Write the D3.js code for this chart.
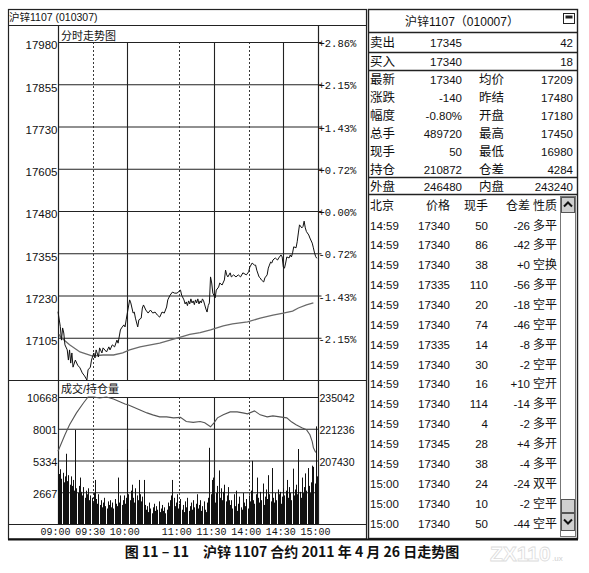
<!DOCTYPE html>
<html><head><meta charset="utf-8">
<script src="https://cdn.jsdelivr.net/npm/d3@7"></script>
<style>
body{margin:0;background:#fff}
text{font-family:"Liberation Sans","Noto Sans CJK SC",sans-serif;fill:#111}
</style>
</head><body><svg id="c" width="589" height="573"></svg>
<script>
// ---------------- data ----------------
const timeTicks  = [0, 30, 60, 105, 135, 165, 195, 225];
const timeLabels = ["09:00","09:30","10:00","11:00","11:30","14:00","14:30","15:00"];
const gridKinds  = ["axis","dash","solid","dash","solid","dash","solid","axis"];
const priceTicks = [17980,17855,17730,17605,17480,17355,17230,17105];
const pctLabels  = ["+2.86%","+2.15%","+1.43%","+0.72%","+0.00%","-0.72%","-1.43%","-2.15%"];
const volTicks   = [10668, 8001, 5334, 2667];
const oiTicks    = [235042, 221236, 207430];

// [minute, price]
const priceData = [[0,17182],[2,17138],[3,17098],[4,17134],[5,17119],[6,17084],[8,17069],[9,17039],[10,17069],[11,17030],[12,17060],[13,17018],[15,17039],[17,17024],[19,17016],[21,17001],[23,16992],[25,16980],[26,17010],[28,17018],[29,17039],[31,17060],[32,17045],[33,17069],[35,17048],[36,17075],[38,17060],[39,17075],[42,17063],[44,17078],[45,17069],[47,17084],[49,17078],[51,17098],[52,17089],[54,17128],[55,17134],[57,17143],[58,17137],[59,17158],[60,17178],[62,17217],[63,17208],[65,17178],[66,17181],[67,17163],[69,17137],[70,17158],[72,17163],[73,17193],[74,17202],[76,17187],[78,17178],[80,17187],[82,17178],[84,17181],[86,17172],[88,17166],[90,17181],[92,17178],[94,17196],[95,17217],[97,17231],[99,17240],[101,17237],[103,17237],[106,17246],[107,17231],[109,17217],[110,17205],[111,17211],[112,17200],[113,17214],[114,17205],[115,17220],[116,17208],[117,17214],[118,17203],[119,17217],[120,17208],[121,17220],[122,17205],[123,17214],[124,17208],[125,17220],[126,17214],[127,17202],[128,17190],[129,17181],[130,17200],[131,17208],[132,17285],[133,17267],[134,17237],[136,17223],[137,17246],[139,17255],[140,17267],[142,17261],[144,17276],[145,17305],[146,17291],[147,17285],[149,17297],[150,17285],[152,17291],[154,17285],[156,17291],[158,17285],[160,17297],[163,17291],[165,17300],[166,17314],[168,17326],[170,17320],[171,17320],[172,17305],[174,17285],[175,17282],[176,17276],[178,17270],[179,17282],[181,17291],[182,17311],[183,17320],[184,17329],[185,17326],[186,17335],[188,17341],[190,17335],[191,17341],[193,17350],[194,17344],[195,17314],[196,17311],[197,17326],[198,17344],[200,17341],[201,17350],[202,17344],[203,17356],[204,17374],[206,17371],[207,17389],[208,17415],[209,17439],[211,17430],[212,17434],[213,17450],[214,17430],[215,17419],[217,17409],[218,17400],[220,17385],[221,17371],[222,17356],[223,17345],[224,17340]];

// [minute, average price]
const avgData = [[1,17115],[2,17108],[10,17084],[19,17063],[30,17051],[39,17054],[48,17054],[56,17060],[62,17069],[71,17078],[80,17084],[88,17089],[97,17098],[106,17107],[114,17115],[123,17120],[132,17128],[143,17140],[151,17146],[164,17152],[175,17163],[186,17172],[195,17178],[203,17184],[208,17193],[215,17202],[221,17208]];

// volume per minute, minute 0..224
const volumes = [
4900,4200,4600,3800,4300,3500,4000,5900,3600,4100,3300,4000,3200,3700,2800,
7900,3000,2600,3200,3900,2700,2400,3100,2200,2800,2500,3000,2000,2400,2200,
1800,2600,3700,2100,1700,2500,1600,2000,1400,1800,2200,1500,1300,1900,1600,
2000,1400,1800,1300,2100,1700,1500,3900,1800,2400,1600,2000,2400,1700,2200,
6300,2500,2000,2800,3300,2200,1800,3000,2400,2000,3700,2500,1900,2300,3700,
1600,1200,1500,1000,1800,1300,900,1400,1700,1100,1500,1200,1900,1000,1300,
1600,1100,1400,900,1200,1800,1500,2000,2400,3700,2200,1500,1800,2500,1300,
1700,2100,1200,1600,1000,1900,1400,2200,1100,1500,1800,1200,2000,1400,1700,
2500,1300,1600,2000,1100,1500,1900,1200,1000,1800,2200,6400,2500,3700,3900,
2400,1800,2600,3200,4500,2200,3000,2000,2700,3300,1900,2400,3100,2000,1600,
2000,1300,2500,1500,2800,1100,1700,2300,1400,1200,2600,1800,1500,2100,1300,
2400,1900,2800,5300,2000,1700,2500,3900,2200,1800,2700,2000,3400,1600,2300,
2900,2100,4100,2500,1900,4700,2200,1800,2600,2000,2900,2500,2700,1700,2300,
3000,2400,2800,3700,2200,3100,2600,2000,4650,2400,2900,3300,2500,6300,2700,
2200,3900,2600,3100,4250,2800,4700,3200,2600,3500,4900,4800,3400,8200,4000];

// [minute, open interest]
const oiData = [[0,211440],[6,218645],[10,222958],[16,228135],[22,232449],[26,235040],[31,235040],[36,234609],[42,235040],[48,234178],[54,232884],[58,232021],[61,231590],[65,230727],[71,229433],[77,228135],[82,227272],[88,226409],[94,226409],[100,225977],[106,226200],[111,224400],[117,224000],[123,224381],[127,223821],[132,222095],[135,223821],[138,225977],[143,227272],[149,228566],[155,228566],[160,228135],[164,227704],[170,228997],[175,227272],[181,226409],[186,226840],[192,226409],[198,225977],[202,224252],[206,222958],[211,221664],[215,220800],[218,218645],[220,215624],[221,213036],[223,210872]];

const leftTitle  = "沪锌1107 (010307)";
const priceTitle = "分时走势图";
const volTitle   = "成交/持仓量";
const panelTitle = "沪锌1107（010007）";
const bidAsk = [["卖出","17345","42"],["买入","17340","18"]];
const quoteRows = [["最新","17340","均价","17209"],["涨跌","-140","昨结","17480"],["幅度","-0.80%","开盘","17180"],["总手","489720","最高","17450"],["现手","50","最低","16980"],["持仓","210872","仓差","4284"]];
const outerRow = ["外盘","246480","内盘","243240"];
const tickHeader = ["北京","价格","现手","仓差","性质"];
const tickRows = [
["14:59","17340","50","-26","多平"],["14:59","17340","86","-42","多平"],["14:59","17340","38","+0","空换"],
["14:59","17335","110","-56","多平"],["14:59","17340","20","-18","空平"],["14:59","17340","74","-46","空平"],
["14:59","17335","14","-8","多平"],["14:59","17340","30","-2","空平"],["14:59","17340","16","+10","空开"],
["14:59","17340","114","-14","多平"],["14:59","17340","4","-2","多平"],["14:59","17345","28","+4","多开"],
["14:59","17340","38","-4","多平"],["15:00","17340","24","-24","双平"],["15:00","17340","10","-2","空平"],
["15:00","17340","50","-44","空平"]];
const caption = "图 11 – 11　沪锌 1107 合约 2011 年 4 月 26 日走势图";

// ---------------- drawing ----------------
const svg = d3.select("#c");
svg.append("rect").attr("width",589).attr("height",573).attr("fill","#fff");

const x   = d3.scaleLinear().domain([0,225]).range([58,318]);
const yP  = d3.scaleLinear().domain([16980,17980]).range([380,42]);
const yV  = d3.scaleLinear().domain([0,10668]).range([524,397]);
const yOI = d3.scaleLinear().domain([235042-4*13806,235042]).range([524,397]);

const ln = (x1,y1,x2,y2,w=1,c="#222",dash=null)=>{
  const l = svg.append("line").attr("x1",x1).attr("y1",y1).attr("x2",x2).attr("y2",y2)
    .attr("stroke",c).attr("stroke-width",w);
  if(dash) l.attr("stroke-dasharray",dash);
  return l;
};

// left frame
svg.append("rect").attr("x",8.5).attr("y",9.5).attr("width",358).attr("height",529.5)
  .attr("fill","none").attr("stroke","#222").attr("stroke-width",1.2);
ln(8,25.5,367,25.5,1.2);
ln(8,380.5,367,380.5,1.2);
ln(8,524.5,367,524.5,1.2);
ln(58.5,25,58.5,524,1.2);
ln(318.5,25,318.5,524,1.2);

svg.append("text").attr("x",9).attr("y",21).attr("font-size",10.5).text(leftTitle);
svg.append("text").attr("x",61).attr("y",39.5).attr("font-size",11).text(priceTitle);
svg.append("text").attr("x",61).attr("y",393).attr("font-size",11).text(volTitle);

// vertical grid
timeTicks.forEach((t,i)=>{
  if(gridKinds[i]==="axis") return;
  const xx = Math.round(x(t))+0.5;
  const dash = gridKinds[i]==="dash" ? "2,2" : null;
  const w = gridKinds[i]==="dash" ? 0.9 : 1.1;
  ln(xx,42,xx,380,w,"#222",dash);
  ln(xx,397,xx,524,w,"#222",dash);
});

// price axis (left) with gridlines
const gP = svg.append("g").attr("transform","translate(58.5,0)")
  .call(d3.axisLeft(yP).tickValues(priceTicks).tickSize(-260).tickPadding(1).tickFormat(d3.format("d")));
gP.select(".domain").remove();
gP.selectAll(".tick line").attr("stroke","#222").attr("stroke-width",1.2);
gP.selectAll(".tick text").attr("font-size",11.5).attr("dy","0.6em")
  .style("font-family","'Liberation Sans',sans-serif");

// percent axis (right)
const gR = svg.append("g").attr("transform","translate(318.5,0)")
  .call(d3.axisRight(yP).tickValues(priceTicks).tickSize(3).tickPadding(-3).tickFormat((d,i)=>pctLabels[i]));
gR.select(".domain").remove();
gR.selectAll(".tick line").attr("stroke","#222");
gR.selectAll(".tick text").attr("font-size",10.5).attr("dy","0.45em")
  .style("font-family","'Liberation Mono',monospace");

// volume axis left
const gV = svg.append("g").attr("transform","translate(58.5,0)")
  .call(d3.axisLeft(yV).tickValues(volTicks).tickSize(-260).tickPadding(1).tickFormat(d3.format("d")));
gV.select(".domain").remove();
gV.selectAll(".tick line").attr("stroke","#222").attr("stroke-width",1.1);
gV.selectAll(".tick text").attr("font-size",11).attr("dy","0.45em")
  .style("font-family","'Liberation Sans',sans-serif");

// OI axis right
const gO = svg.append("g").attr("transform","translate(318.5,0)")
  .call(d3.axisRight(yOI).tickValues(oiTicks).tickSize(0).tickPadding(1).tickFormat(d3.format("d")));
gO.select(".domain").remove();
gO.selectAll(".tick text").attr("font-size",10.5).attr("dy","0.45em")
  .style("font-family","'Liberation Sans',sans-serif");

// time labels
const gT = svg.append("g").attr("transform","translate(-3,524.5)")
  .call(d3.axisBottom(x).tickValues(timeTicks).tickSize(0).tickPadding(3).tickFormat((d,i)=>timeLabels[i]));
gT.select(".domain").remove();
gT.selectAll(".tick text").attr("font-size",10)
  .style("font-family","'Liberation Mono',monospace");

// volume bars
svg.append("g").selectAll("line").data(volumes).join("line")
  .attr("x1",(d,i)=>Math.round(x(i))+0.5).attr("x2",(d,i)=>Math.round(x(i))+0.5)
  .attr("y1",yV(0)).attr("y2",d=>yV(d)).attr("stroke","#111").attr("stroke-width",1);

// OI line
svg.append("path").datum(oiData)
  .attr("d",d3.line().x(d=>x(d[0])).y(d=>yOI(d[1])))
  .attr("fill","none").attr("stroke","#555").attr("stroke-width",1.1);

// avg line
svg.append("path").datum(avgData)
  .attr("d",d3.line().x(d=>x(d[0])).y(d=>yP(d[1])))
  .attr("fill","none").attr("stroke","#6a6a6a").attr("stroke-width",1.3);

// price line
svg.append("path").datum(priceData)
  .attr("d",d3.line().x(d=>x(d[0])).y(d=>yP(d[1])))
  .attr("fill","none").attr("stroke","#111").attr("stroke-width",1);

// ---------------- right panel ----------------
svg.append("rect").attr("x",368.5).attr("y",9.5).attr("width",209).attr("height",529)
  .attr("fill","none").attr("stroke","#222").attr("stroke-width",1.4);
[32,52,70,177,194].forEach(yy=>ln(368,yy+0.5,578,yy+0.5,1.4));

svg.append("text").attr("x",462).attr("y",26).attr("text-anchor","middle").attr("font-size",12).text(panelTitle);
svg.append("rect").attr("x",563.5).attr("y",13.5).attr("width",11).attr("height",10).attr("fill","#fff").attr("stroke","#222");
svg.append("rect").attr("x",565.5).attr("y",15.5).attr("width",7).attr("height",3).attr("fill","#222");

const tx = (xx,yy,s,anchor="start",fs=11.5)=>svg.append("text").attr("x",xx).attr("y",yy)
  .attr("text-anchor",anchor).attr("font-size",fs).text(s);

bidAsk.forEach((r,i)=>{
  const cy = [42,61][i] + 4.5;
  tx(370,cy,r[0],"start",12.5); tx(462,cy,r[1],"end"); tx(573,cy,r[2],"end");
});
quoteRows.forEach((r,i)=>{
  const cy = 79 + i*18 + 4.5;
  tx(370,cy,r[0],"start",12.5); tx(462,cy,r[1],"end");
  tx(479,cy,r[2],"start",12.5); tx(573,cy,r[3],"end");
});
{
  const cy = 186 + 4.5;
  tx(370,cy,outerRow[0],"start",12.5); tx(462,cy,outerRow[1],"end");
  tx(479,cy,outerRow[2],"start",12.5); tx(573,cy,outerRow[3],"end");
}
// tick table
const colX = [370,450,488,530,533];
const colA = ["start","end","end","end","start"];
tickHeader.forEach((h,j)=>tx(colX[j],205+4.5,h,colA[j],12));
tickRows.forEach((r,i)=>{
  const cy = 225 + i*19.87 + 4.5;
  r.forEach((c,j)=>tx(colX[j],cy,c,colA[j],j===4?12:11.5));
});

// scrollbar
svg.append("rect").attr("x",560.5).attr("y",196.5).attr("width",15).attr("height",340).attr("fill","#fff").attr("stroke","#777");
const btn = (yy,h,up)=>{
  svg.append("rect").attr("x",561.5).attr("y",yy+0.5).attr("width",13).attr("height",h).attr("fill","#d0d0d0").attr("stroke","#555");
  if(up!==null){
    const cx=568, cy=yy+h/2;
    const p = up ? `M${cx-4},${cy+2}L${cx},${cy-2}L${cx+4},${cy+2}` : `M${cx-4},${cy-2}L${cx},${cy+2}L${cx+4},${cy-2}`;
    svg.append("path").attr("d",p).attr("fill","none").attr("stroke","#111").attr("stroke-width",2);
  }
};
btn(197,15,true);
btn(499,13,null);
btn(513,17,false);

// bottom thick line
ln(8,539.5,578,539.5,2,"#111");

// caption
svg.append("text").attr("x",292).attr("y",557).attr("text-anchor","middle")
  .attr("font-size",14).attr("font-weight","bold").style("font-family","'Noto Sans CJK SC','Liberation Serif',serif").text(caption);
// watermark (faint outline)
svg.append("text").attr("x",490).attr("y",561).attr("font-size",21).attr("font-weight","bold")
  .style("fill","none").style("stroke","#dcdcdc").style("stroke-width",0.8).text("ZX110");
svg.append("text").attr("x",552).attr("y",561).attr("font-size",8).style("fill","#d0d0d0").text(".ux");
</script>
</body></html>
